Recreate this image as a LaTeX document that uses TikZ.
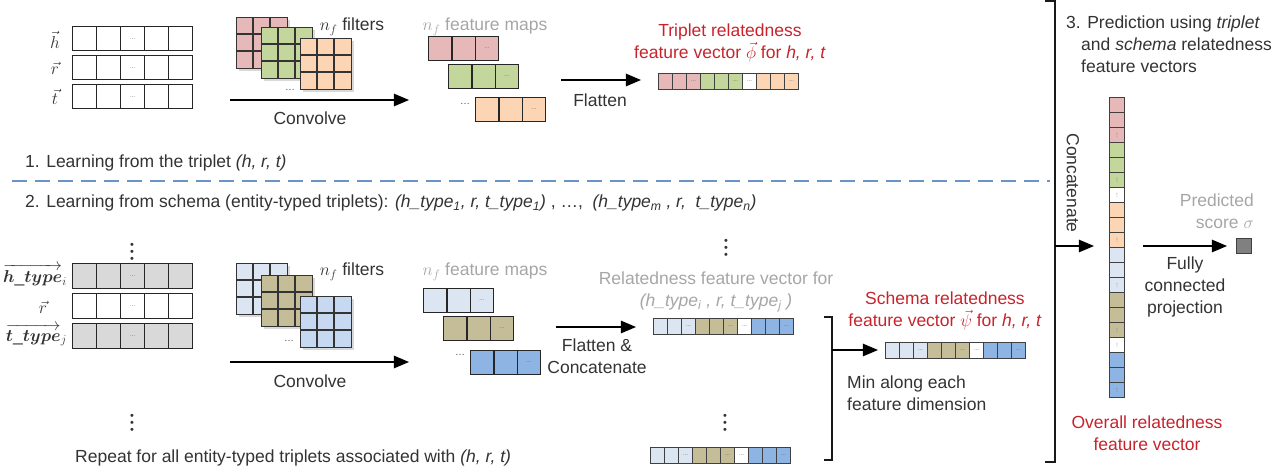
\documentclass[tikz,border=0pt]{standalone}
\usepackage{fontspec}
\setmainfont{Liberation Sans}
\usepackage{amsmath}
\usepackage{bm}
\usetikzlibrary{arrows,shadows}

\definecolor{cpink}{HTML}{E6B9B8}
\definecolor{cgreen}{HTML}{C3D69B}
\definecolor{corange}{HTML}{FCD5B5}
\definecolor{clblue}{HTML}{DCE6F2}
\definecolor{clblueb}{HTML}{C6D9F1}
\definecolor{ckhaki}{HTML}{C4BD97}
\definecolor{cblue}{HTML}{8DB4E2}
\definecolor{cgrey}{HTML}{D9D9D9}
\definecolor{cred}{HTML}{C8232C}
\definecolor{cgraytxt}{HTML}{A6A6A6}
\definecolor{cdash}{HTML}{6A93C8}

\newcommand\dd{{\fontsize{6}{6}\selectfont\color{black!60}...}}
\newcommand\vdd{\rotatebox{90}{\dd}}
\newcommand\threedots{•\\•\\•}

% row of cells, left to right
\newcommand\cellrow[7][cell]{%
  \foreach \c/\m [count=\i] in {#7}
    \node[#1,minimum width=#5,minimum height=#6,fill=\c] (#2-\i) at ({#3+(\i-1)*#5},#4) {\m};}
% column of cells, top to bottom
\newcommand\cellcol[6]{%
  \foreach \c/\m [count=\i] in {#6}
    \node[cell,minimum width=#4,minimum height=#5,fill=\c] (#1-\i) at (#2,{#3+(\i-1)*#5}) {\m};}
% 3x3 filter
\newcommand\filtgrid[4]{%
  \node[filt,fill=#4] (#1) at (#2,#3) {};
  \foreach \k in {17,34}{
    \draw[gridline] (#2+\k,#3) -- (#2+\k,#3+51);
    \draw[gridline] (#2,#3+\k) -- (#2+51,#3+\k);}}

\begin{document}
\begin{tikzpicture}[x=1pt,y=-1pt,
  cell/.style={draw=black!75,line width=1pt,inner sep=0pt,anchor=north west},
  bigcell/.style={cell,draw=black!85,line width=1.4pt},
  mapcell/.style={cell,draw=black!85,line width=1.3pt},
  filt/.style={draw=black!80,line width=1.3pt,minimum size=51pt,inner sep=0pt,anchor=north west,
    drop shadow={opacity=0.3,shadow xshift=2pt,shadow yshift=-2pt}},
  gridline/.style={draw=black!80,line width=1.3pt},
  lbl/.style={font=\fontsize{17.5}{22}\selectfont,text=black!80,inner sep=0pt,align=center},
  redlbl/.style={lbl,text=cred},
  greylbl/.style={lbl,text=cgraytxt},
  dotlbl/.style={font=\fontsize{10}{10}\selectfont,text=black!70,inner sep=0pt},
  vdotlbl/.style={font=\fontsize{11}{7}\selectfont,text=black!80,inner sep=0pt,align=center},
  flow/.style={->,>=triangle 45,line width=2.6pt},
  brace/.style={line width=1.6pt,black!90},
  dashline/.style={cdash,line width=2.6pt,dash pattern=on 15pt off 8pt}]
\useasboundingbox (0,0) rectangle (1279,473);

% 1. triplet
\node[lbl] (hlab) at (55,40) {$\vec{h}$};
\node[lbl] (rlab) at (55,68) {$\vec{r}$};
\node[lbl] (tlab) at (55,97) {$\vec{t}$};
\cellrow[bigcell]{hrow}{72}{26}{24}{24}{white/{},white/{},white/\dd,white/{},white/{}}
\cellrow[bigcell]{rrow}{72}{55}{24}{24}{white/{},white/{},white/\dd,white/{},white/{}}
\cellrow[bigcell]{trow}{72}{84}{24}{24}{white/{},white/{},white/\dd,white/{},white/{}}

\node[lbl] (nfilt) at (352,27) {$n_f$ filters};
\filtgrid{fpink}{236}{17}{cpink}
\filtgrid{fgreen}{261}{27}{cgreen}
\filtgrid{forange}{300}{38}{corange}
\node[dotlbl] (fdots) at (290,90) {\dots};
\coordinate (cv1a) at (230,100);
\coordinate (cv1b) at (409,100);
\draw[flow] (cv1a) -- (cv1b);
\node[lbl] (cv1) at (310,118) {Convolve};

\node[greylbl] (nfmap) at (485,27) {$n_f$ feature maps};
\cellrow[mapcell]{fmpink}{428}{36}{23.33}{24}{cpink/{},cpink/{},cpink/\dd}
\cellrow[mapcell]{fmgreen}{448}{64}{23.33}{24}{cgreen/{},cgreen/{},cgreen/\dd}
\cellrow[mapcell]{fmorange}{475}{97}{23.33}{24}{corange/{},corange/{},corange/\dd}
\node[dotlbl] (fmdots) at (465,104) {\dots};

\coordinate (fl1a) at (561,80);
\coordinate (fl1b) at (641,80);
\draw[flow] (fl1a) -- (fl1b);
\node[lbl] (fl1) at (600,100) {Flatten};
\node[redlbl] (phitxt) at (730,43) {Triplet relatedness\\feature vector $\vec{\phi}$ for \textit{h, r, t}};
\cellrow{phi}{658}{73}{14}{16}{cpink/{},cpink/{},cpink/\dd,cgreen/{},cgreen/{},cgreen/\dd,white/\dd,corange/{},corange/{},corange/\dd}

\node[lbl,anchor=west] (sec1) at (25,163) {1. Learning from the triplet \textit{(h, r, t)}};

\coordinate (dashl) at (12,181);
\coordinate (dashr) at (1050,181);
\draw[dashline] (dashl) -- (dashr);

% 2. schema
\node[lbl,anchor=west] (sec2) at (25,203) {2. Learning from schema (entity-typed triplets): \textit{(h\_type\textsubscript{1}, r, t\_type\textsubscript{1})} , …,\ \ \textit{(h\_type\textsubscript{m} , r,\ \ t\_type\textsubscript{n})}};

\node[vdotlbl] (vd1) at (132,253) {\threedots};
\node[lbl,anchor=east] (htlab) at (67,275) {$\overrightarrow{\bm{h\_type}}_{i}$};
\node[lbl] (rlab2) at (43,307) {$\vec{r}$};
\node[lbl,anchor=east] (ttlab) at (67,335) {$\overrightarrow{\bm{t\_type}}_{j}$};
\cellrow[bigcell]{htrow}{72}{263}{24}{25}{cgrey/{},cgrey/{},cgrey/\dd,cgrey/{},cgrey/{}}
\cellrow[bigcell]{rrow2}{72}{293}{24}{25}{white/{},white/{},white/\dd,white/{},white/{}}
\cellrow[bigcell]{ttrow}{72}{323}{24}{25}{cgrey/{},cgrey/{},cgrey/\dd,cgrey/{},cgrey/{}}

\node[lbl] (nfilt2) at (352,272) {$n_f$ filters};
\filtgrid{fblue}{236}{263}{clblue}
\filtgrid{fkhaki}{261}{275}{ckhaki}
\filtgrid{fblueb}{300}{296}{clblueb}
\node[dotlbl] (fdots2) at (289,341) {\dots};
\coordinate (cv2a) at (230,362);
\coordinate (cv2b) at (409,362);
\draw[flow] (cv2a) -- (cv2b);
\node[lbl] (cv2) at (310,381) {Convolve};
\node[vdotlbl] (vd2) at (132,424) {\threedots};
\node[lbl,anchor=west] (rep) at (75,458) {Repeat for all entity-typed triplets associated with \textit{(h, r, t)}};

\node[greylbl] (nfmap2) at (485,272) {$n_f$ feature maps};
\cellrow[mapcell]{fmblue}{423}{288}{23.33}{24}{clblue/{},clblue/{},clblue/\dd}
\cellrow[mapcell]{fmkhaki}{443}{316}{23.33}{24}{ckhaki/{},ckhaki/{},ckhaki/\dd}
\cellrow[mapcell]{fmblueb}{470}{350}{23.33}{24}{cblue/{},cblue/{},cblue/\dd}
\node[dotlbl] (fmdots2) at (460,355) {\dots};

\coordinate (fl2a) at (556,327);
\coordinate (fl2b) at (636,327);
\draw[flow] (fl2a) -- (fl2b);
\node[lbl] (fl2) at (597,356) {Flatten \&\\Concatenate};

\node[vdotlbl] (vd3) at (726,249) {\threedots};
\node[greylbl] (reltxt) at (716,292) {Relatedness feature vector for\\\textit{(h\_type\textsubscript{i} , r, t\_type\textsubscript{j} )}};
\cellrow{rel}{653}{318}{14}{16}{clblue/{},clblue/{},clblue/\dd,ckhaki/{},ckhaki/{},ckhaki/\dd,white/\dd,cblue/{},cblue/{},cblue/\dd}
\node[vdotlbl] (vd4) at (725,424) {\threedots};
\cellrow{rellast}{650}{447}{14}{16}{clblue/{},clblue/{},clblue/\dd,ckhaki/{},ckhaki/{},ckhaki/\dd,white/\dd,cblue/{},cblue/{},cblue/\dd}

% min over the schema vectors
\coordinate (mb1) at (824,317);
\coordinate (mb2) at (832,317);
\coordinate (mb3) at (832,460);
\coordinate (mb4) at (824,460);
\draw[brace] (mb1) -- (mb2) -- (mb3) -- (mb4);
\coordinate (mba) at (832,350);
\coordinate (mbb) at (878,350);
\draw[flow] (mba) -- (mbb);
\node[lbl,align=left,anchor=west] (mintxt) at (847,393) {Min along each\\feature dimension};
\node[redlbl] (psitxt) at (945,311) {Schema relatedness\\feature vector $\vec{\psi}$ for \textit{h, r, t}};
\cellrow{psi}{885}{342}{14}{16}{clblue/{},clblue/{},clblue/\dd,ckhaki/{},ckhaki/{},ckhaki/\dd,white/\dd,cblue/{},cblue/{},cblue/\dd}

% 3. prediction
\coordinate (cb1) at (1045,1);
\coordinate (cb2) at (1055,1);
\coordinate (cb3) at (1055,462);
\coordinate (cb4) at (1045,462);
\draw[brace] (cb1) -- (cb2) -- (cb3) -- (cb4);
\coordinate (cca) at (1055,246);
\coordinate (ccb) at (1094,246);
\draw[flow] (cca) -- (ccb);
\node[lbl,rotate=-90] (cctxt) at (1073,183) {Concatenate};
\cellcol{allvec}{1109}{97}{15}{15}{cpink/{},cpink/{},cpink/\vdd,cgreen/{},cgreen/{},cgreen/\vdd,white/\vdd,corange/{},corange/{},corange/\vdd,clblue/{},clblue/{},clblue/\vdd,ckhaki/{},ckhaki/{},ckhaki/\vdd,white/\vdd,cblue/{},cblue/{},cblue/\vdd}
\node[lbl,align=left,anchor=north west] (predtxt) at (1066,16) {3. Prediction using \textit{triplet}\\\hspace*{15pt}and \textit{schema} relatedness\\\hspace*{15pt}feature vectors};
\node[greylbl,align=right,anchor=east] (scoretxt) at (1254,211) {Predicted\\score $\sigma$};
\node[cell,minimum size=15,fill=black!50,anchor=center] (score) at (1244,246) {};
\coordinate (fca) at (1143,246);
\draw[flow,shorten >=9pt] (fca) -- (score.west);
\node[lbl] (fctxt) at (1185,287) {Fully\\connected\\projection};
\node[redlbl] (overall) at (1147,433) {Overall relatedness\\feature vector};
\end{tikzpicture}
\end{document}
